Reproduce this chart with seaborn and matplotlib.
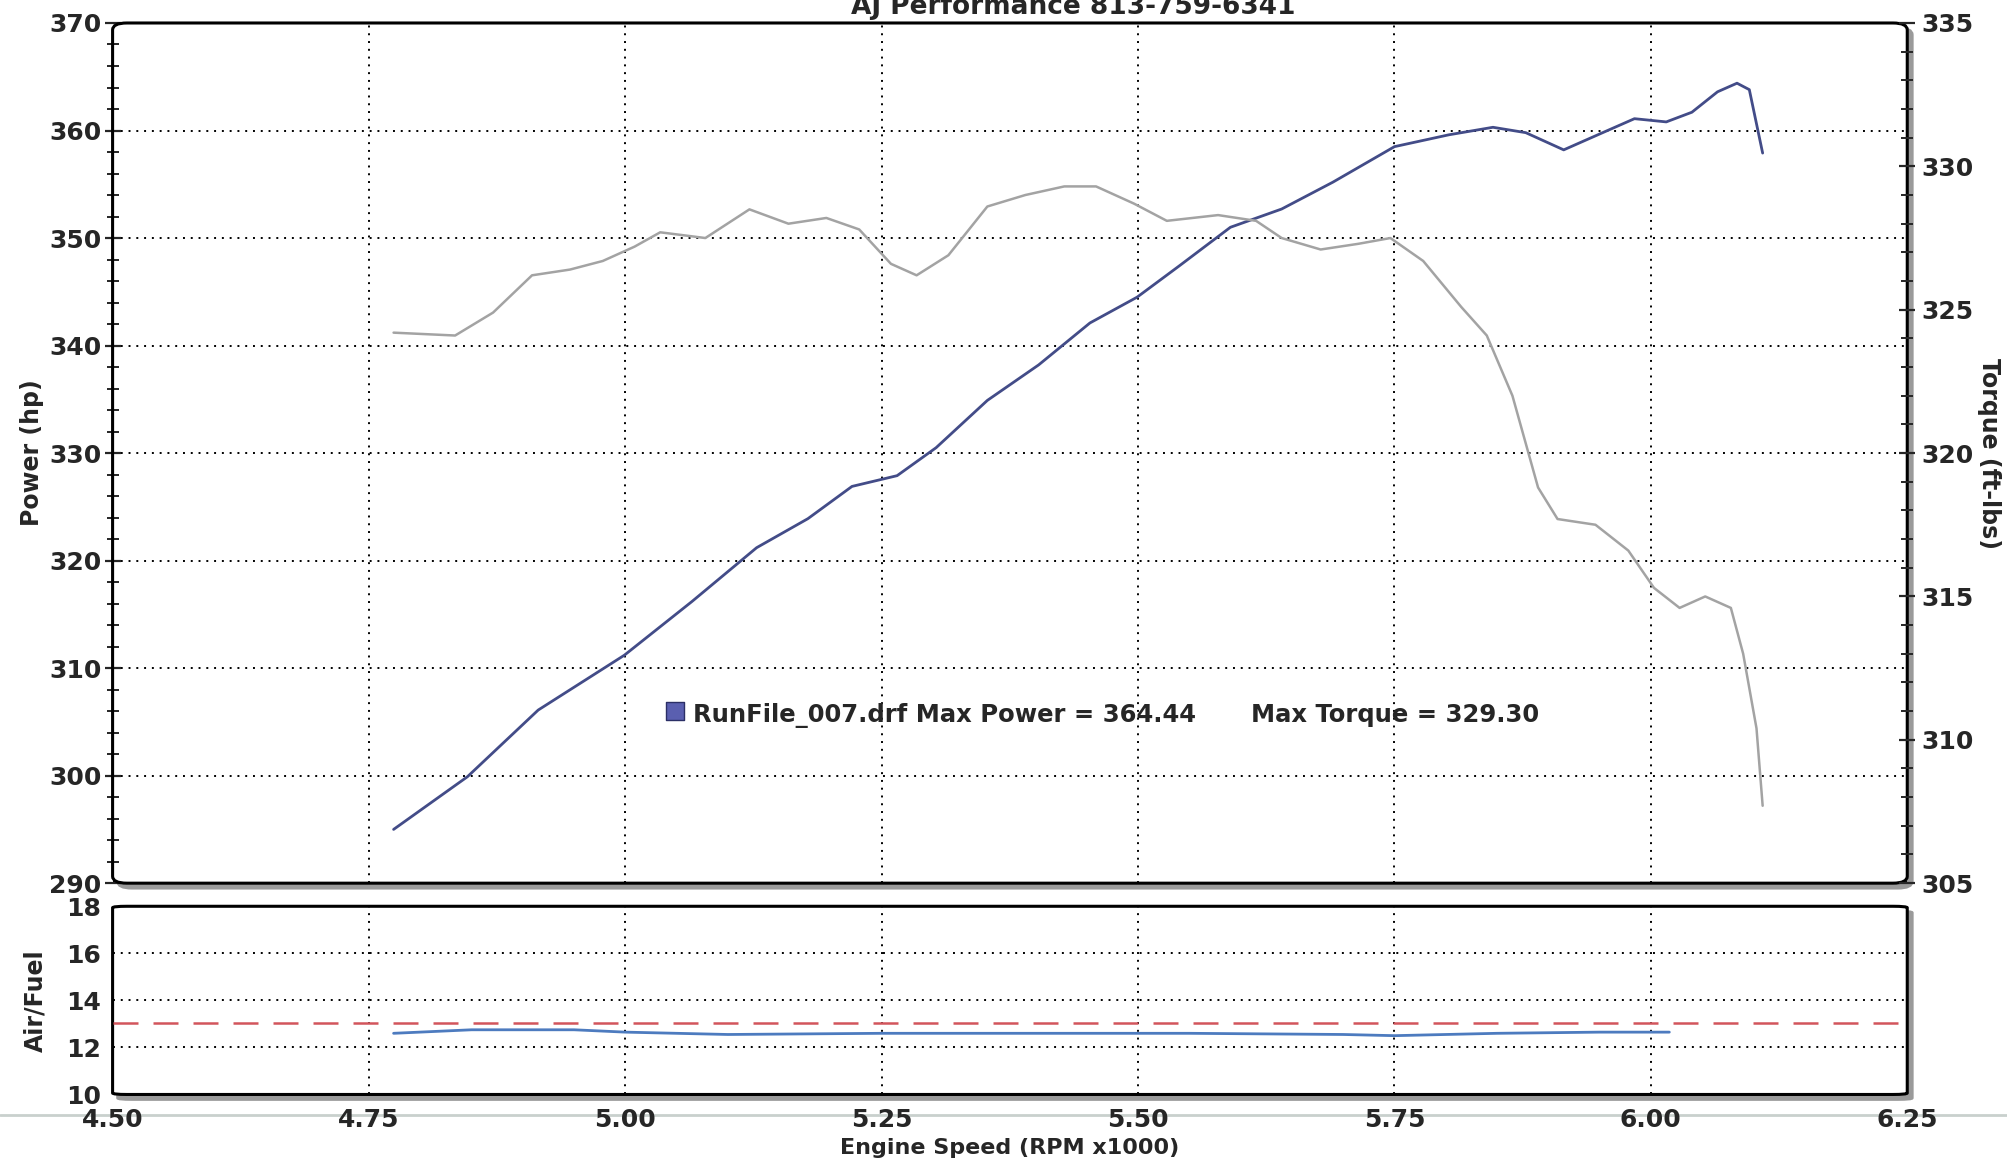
import numpy as np
import pandas as pd
import matplotlib
matplotlib.use('Agg')
import matplotlib.pyplot as plt
import matplotlib.transforms as mtransforms
from matplotlib.patches import FancyBboxPatch
from matplotlib.lines import Line2D
from matplotlib.ticker import MultipleLocator, FormatStrFormatter
import seaborn as sns

# --- 資料 ---
power_rpm = [4.774, 4.846, 4.915, 4.999, 5.065, 5.128, 5.178, 5.221, 5.265, 5.303,
             5.353, 5.403, 5.453, 5.499, 5.540, 5.590, 5.640, 5.690, 5.750, 5.803,
             5.846, 5.878, 5.915, 5.953, 5.984, 6.015, 6.040, 6.065, 6.084, 6.096, 6.109]
power_hp = [295.0, 299.9, 306.1, 311.2, 316.2, 321.2, 323.9, 326.9, 327.9, 330.5,
            334.9, 338.2, 342.1, 344.5, 347.4, 351.0, 352.7, 355.2, 358.5, 359.6,
            360.3, 359.8, 358.2, 359.8, 361.1, 360.8, 361.7, 363.6, 364.4, 363.8, 357.9]

torque_rpm = [4.774, 4.834, 4.871, 4.909, 4.946, 4.978, 5.009, 5.034, 5.078, 5.121,
              5.159, 5.196, 5.228, 5.259, 5.284, 5.315, 5.353, 5.390, 5.428, 5.459,
              5.496, 5.528, 5.578, 5.615, 5.640, 5.678, 5.715, 5.746, 5.778, 5.815,
              5.840, 5.865, 5.890, 5.909, 5.946, 5.978, 6.003, 6.028, 6.053, 6.078,
              6.090, 6.103, 6.109]
torque_ftlb = [324.2, 324.1, 324.9, 326.2, 326.4, 326.7, 327.2, 327.7, 327.5, 328.5,
               328.0, 328.2, 327.8, 326.6, 326.2, 326.9, 328.6, 329.0, 329.3, 329.3,
               328.7, 328.1, 328.3, 328.1, 327.5, 327.1, 327.3, 327.5, 326.7, 325.1,
               324.1, 322.0, 318.8, 317.7, 317.5, 316.6, 315.3, 314.6, 315.0, 314.6,
               313.0, 310.4, 307.7]

afr_rpm = [4.774, 4.85, 4.95, 5.00, 5.10, 5.25, 5.40, 5.55, 5.70, 5.75, 5.85, 5.95, 6.018]
afr_val = [12.6, 12.75, 12.75, 12.65, 12.55, 12.6, 12.6, 12.6, 12.55, 12.5, 12.6, 12.65, 12.65]

afr_target = 13.05

title_text = 'AJ Performance 813-759-6341'
legend_text1 = 'RunFile_007.drf Max Power = 364.44'
legend_text2 = 'Max Torque = 329.30'

# --- 樣式設定 ---
sns.set_style("white")
plt.rcParams['font.family'] = ['DejaVu Sans']
plt.rcParams['font.weight'] = 'bold'

power_color = '#434c88'
torque_color = '#a3a3a3'
afr_color = '#4d7bbf'
target_color = '#d2555c'
grid_kw = dict(color='black', linestyle=(0, (1, 3)), linewidth=1.4)

fig = plt.figure(figsize=(20.07, 11.61), dpi=100)

ax = fig.add_axes([0.0561, 0.2393, 0.8942, 0.7409])
ax2 = ax.twinx()
axf = fig.add_axes([0.0561, 0.0573, 0.8942, 0.1621], sharex=ax)


def rounded_frame(a):
    # 圓角外框 + 右下陰影 (陰影放在 figure 層, 被白色 axes 背景蓋住內側)
    for s in a.spines.values():
        s.set_visible(False)
    shift = mtransforms.ScaledTranslation(5 / 100, -5 / 100, fig.dpi_scale_trans)
    shadow = FancyBboxPatch((0, 0), 1, 1, boxstyle='round,pad=0,rounding_size=0.008',
                            transform=a.transAxes + shift, facecolor='#9a9a9a',
                            edgecolor='#9a9a9a', linewidth=2, zorder=-1)
    fig.add_artist(shadow)
    box = FancyBboxPatch((0, 0), 1, 1, boxstyle='round,pad=0,rounding_size=0.008',
                         transform=a.transAxes, facecolor='none', edgecolor='black',
                         linewidth=2.2, clip_on=False, zorder=5)
    a.add_patch(box)


# --- 主圖: 功率與扭力 ---
df_power = pd.DataFrame({'rpm': power_rpm, 'hp': power_hp})
df_torque = pd.DataFrame({'rpm': torque_rpm, 'tq': torque_ftlb})
ax.set_zorder(1)
ax2.set_zorder(2)
ax2.patch.set_visible(False)
rounded_frame(ax)
ax.set_axisbelow(True)
sns.lineplot(data=df_power, x='rpm', y='hp', ax=ax, color=power_color, linewidth=2.0, zorder=7)
sns.lineplot(data=df_torque, x='rpm', y='tq', ax=ax2, color=torque_color, linewidth=1.8)

ax.set_xlim(4.5, 6.25)
ax.set_ylim(290, 370)
ax2.set_ylim(305, 335)
ax.yaxis.set_major_locator(MultipleLocator(10))
ax.yaxis.set_minor_locator(MultipleLocator(2))
ax2.yaxis.set_major_locator(MultipleLocator(5))
ax2.yaxis.set_minor_locator(MultipleLocator(1))
ax.xaxis.set_major_locator(MultipleLocator(0.25))
ax.xaxis.set_minor_locator(MultipleLocator(0.05))

ax.grid(True, which='major', **grid_kw)
ax.tick_params(axis='x', which='both', bottom=False, labelbottom=False)
ax.tick_params(axis='y', which='major', direction='inout', length=12, width=1.6, labelsize=18, pad=2)
ax.tick_params(axis='y', which='minor', direction='inout', length=8, width=1.4)
ax2.tick_params(axis='y', which='major', direction='inout', length=12, width=1.6, labelsize=18, pad=4)
ax2.tick_params(axis='y', which='minor', direction='inout', length=8, width=1.4)
ax.set_xlabel('')
ax.set_ylabel('Power (hp)', fontsize=17, fontweight='bold', labelpad=4)
ax2.set_ylabel('Torque (ft-lbs)', fontsize=17, fontweight='bold', rotation=270, labelpad=20)
for s in ax2.spines.values():
    s.set_visible(False)

# 圖例文字
ax.scatter([5.048], [306.0], marker='s', s=150, color='#5a5fb0', edgecolor='#2b2f66', zorder=8)
ax.text(5.066, 305.6, legend_text1, fontsize=17.5, fontweight='bold', va='center', ha='left', zorder=8)
ax.text(5.61, 305.6, legend_text2, fontsize=17.5, fontweight='bold', va='center', ha='left', zorder=8)

# --- 下方小圖: 空燃比 ---
rounded_frame(axf)
axf.set_axisbelow(True)
df_afr = pd.DataFrame({'rpm': afr_rpm, 'afr': afr_val})
sns.lineplot(data=df_afr, x='rpm', y='afr', ax=axf, color=afr_color, linewidth=2.0, zorder=7)
axf.axhline(afr_target, color=target_color, linestyle=(0, (10, 6)), linewidth=1.8, zorder=7)
axf.set_ylim(10, 18)
axf.set_yticks([10, 12, 14, 16, 18])
axf.yaxis.set_minor_locator(MultipleLocator(0.5))
axf.grid(True, which='major', **grid_kw)
axf.tick_params(axis='x', which='major', direction='inout', length=12, width=1.6, labelsize=18, pad=4)
axf.tick_params(axis='x', which='minor', direction='inout', length=9, width=1.4)
axf.tick_params(axis='y', which='major', direction='inout', length=12, width=1.6, labelsize=18, pad=2)
axf.tick_params(axis='y', which='minor', direction='inout', length=7, width=1.4)
axf.xaxis.set_major_formatter(FormatStrFormatter('%.2f'))
axf.set_ylabel('Air/Fuel', fontsize=17, fontweight='bold', labelpad=14)
axf.set_xlabel('Engine Speed (RPM x1000)', fontsize=16, fontweight='bold', labelpad=4)

# 頂部標題 (照片上緣裁切)
fig.text(0.535, 0.994, title_text, fontsize=19, fontweight='bold', ha='center', va='center')
# 照片中的淡灰橫線
fig.add_artist(Line2D([0, 1], [0.040, 0.040], transform=fig.transFigure, color='#c9d0cd',
                      linewidth=2, zorder=-2))

fig.savefig('out.png', dpi=100, facecolor='white')
